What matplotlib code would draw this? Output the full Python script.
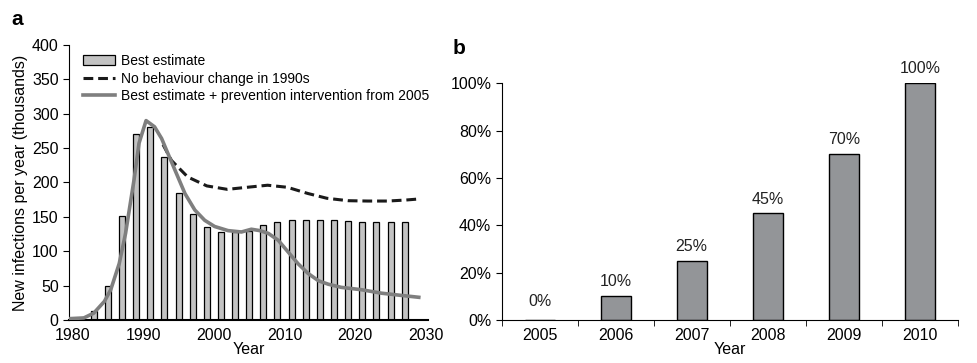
import numpy as np
import matplotlib
matplotlib.use("Agg")
import matplotlib.pyplot as plt

plt.rcParams['font.family'] = ['Liberation Sans', 'DejaVu Sans']

# panel a - bars (best estimate), every 2 years
bar_years = np.arange(1983, 2029, 2)
best_est = [13, 49, 151, 270, 281, 237, 185, 154, 135, 128, 128, 130,
            138, 142, 145, 146, 145, 145, 144, 143, 143, 143, 143]

# no behaviour change in 1990s (dashed)
nbc_years = [1992.8, 1994, 1996.3, 1999, 2001.9, 2004.7, 2007.6, 2010.4,
             2013.3, 2016, 2019, 2021.8, 2024.6, 2027.2, 2029]
nbc_vals = [255, 232, 208, 195, 190, 193, 196, 193, 184, 177, 173.5, 173,
            173, 174.5, 176]

# best estimate + prevention (solid)
prev_years = [1979.7, 1981.6, 1983, 1984.5, 1985.4, 1986.6, 1987.5, 1988.7,
              1989.4, 1990.4, 1991.6, 1992.6, 1993.5, 1994.7, 1995.9, 1997.3,
              1998.7, 2000.1, 2002, 2003.9, 2005.3, 2006.5, 2007.7, 2009.1,
              2010.5, 2011.9, 2013.3, 2014.8, 2016.2, 2018, 2020.9, 2023.7,
              2026.3, 2029]
prev_vals = [2, 3, 10, 27, 44, 82, 126, 204, 257, 290, 281, 264, 242, 213,
             184, 160, 145, 136, 130, 128, 132, 130, 126, 116, 99, 82, 68,
             57, 52, 47.5, 44, 39, 36, 33]

# panel b
b_years = ['2005', '2006', '2007', '2008', '2009', '2010']
b_pct = [0, 10, 25, 45, 70, 100]

fig = plt.figure(figsize=(9.78, 3.63), dpi=100)
ax1 = fig.add_axes([0.0706, 0.1185, 0.367, 0.7576])
ax2 = fig.add_axes([0.513, 0.1185, 0.4663, 0.652])

fs = 11.5
bars = ax1.bar(bar_years, best_est, width=0.85, color='#c3c3c3',
               edgecolor='black', linewidth=0.9, label='Best estimate', zorder=2)
l1, = ax1.plot(nbc_years, nbc_vals, color='#1a1a1a', lw=2.2, ls=(0, (3.2, 1.6)),
               label='No behaviour change in 1990s', zorder=3)
l2, = ax1.plot(prev_years, prev_vals, color='#7f7f7f', lw=2.6,
               label='Best estimate + prevention intervention from 2005', zorder=4)
ax1.set_xlim(1979.5, 2030.3)
ax1.set_ylim(0, 400)
ax1.set_xticks(np.arange(1980, 2031, 10))
ax1.set_yticks(np.arange(0, 401, 50))
ax1.tick_params(axis='y', direction='out', length=4, labelsize=fs)
ax1.tick_params(axis='x', length=0, labelsize=fs, pad=6)
for s in ['top', 'right']:
    ax1.spines[s].set_visible(False)
ax1.spines['bottom'].set_linewidth(1.5)
ax1.set_xlabel('Year', fontsize=fs, labelpad=-1)
ax1.set_ylabel('New infections per year (thousands)', fontsize=fs, labelpad=3)
ax1.legend(handles=[bars, l1, l2], loc='upper left',
           bbox_to_anchor=(0.039, 0.967), frameon=False, fontsize=10,
           handlelength=2.3, handletextpad=0.45, labelspacing=0.25,
           borderaxespad=0, borderpad=0)

xb = np.arange(len(b_years))
ax2.bar(xb, b_pct, width=0.4, color='#939598', edgecolor='black',
        linewidth=1.0, zorder=2)
for x, v in zip(xb, b_pct):
    ax2.annotate(f'{v}%', (x, v), xytext=(0, 5 if v else 8),
                 textcoords='offset points', ha='center', va='bottom',
                 fontsize=fs, color='#222222', annotation_clip=False)
ax2.set_xlim(-0.5, len(b_years) - 0.5)
ax2.set_ylim(0, 100)
ax2.set_yticks(np.arange(0, 101, 20))
ax2.set_yticklabels([f'{v}%' for v in range(0, 101, 20)])
ax2.set_xticks(xb)
ax2.set_xticklabels(b_years)
ax2.set_xticks(np.arange(-0.5, len(b_years), 1), minor=True)
ax2.tick_params(axis='x', which='major', length=0, labelsize=fs, pad=6)
ax2.tick_params(axis='x', which='minor', length=4, direction='out')
ax2.tick_params(axis='y', length=4, direction='out', labelsize=fs)
for s in ['top', 'right']:
    ax2.spines[s].set_visible(False)
ax2.set_xlabel('Year', fontsize=fs, labelpad=-1)

fig.text(0.012, 0.93, 'a', fontsize=15, fontweight='bold')
fig.text(0.463, 0.85, 'b', fontsize=15, fontweight='bold')

fig.savefig('out.png', dpi=100)
